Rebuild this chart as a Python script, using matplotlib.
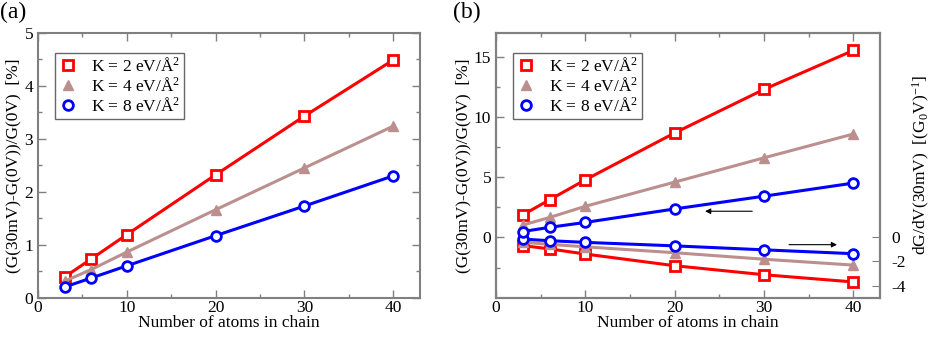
import numpy as np
import matplotlib
matplotlib.use("Agg")
import matplotlib.pyplot as plt
from matplotlib.ticker import MultipleLocator

plt.rcParams["font.family"] = ["Liberation Serif", "DejaVu Serif"]
plt.rcParams["mathtext.fontset"] = "custom"
plt.rcParams["mathtext.rm"] = "Liberation Serif"
plt.rcParams["mathtext.it"] = "Liberation Serif:italic"
plt.rcParams["axes.unicode_minus"] = False

# ---------------------------------------------------------------------------
# Data
# ---------------------------------------------------------------------------
n_atoms = [3, 6, 10, 20, 30, 40]

# panel (a): relative conductance change [%]
a_k2 = [0.39, 0.73, 1.19, 2.32, 3.43, 4.49]
a_k4 = [0.31, 0.53, 0.86, 1.66, 2.45, 3.24]
a_k8 = [0.20, 0.37, 0.60, 1.17, 1.73, 2.30]

# panel (b): relative change [%] (left axis)
b_k2 = [1.88, 3.13, 4.79, 8.69, 12.31, 15.55]
b_k4 = [1.03, 1.66, 2.59, 4.60, 6.62, 8.60]
b_k8 = [0.49, 0.84, 1.25, 2.37, 3.43, 4.52]

# panel (b): dG/dV at 30 mV (right axis)
d_k2 = [-0.68, -0.95, -1.38, -2.35, -3.10, -3.70]
d_k4 = [-0.40, -0.57, -0.78, -1.27, -1.81, -2.30]
d_k8 = [-0.14, -0.27, -0.41, -0.70, -1.03, -1.35]

LABELS = [r"K = 2 eV/Å$^{2}$", r"K = 4 eV/Å$^{2}$", r"K = 8 eV/Å$^{2}$"]
COLORS = ["#ff0000", "#bc8f8f", "#0000ff"]
MARKERS = ["s", "^", "o"]
FS = 12.5
SPINE = "#808080"


def style_axis(ax):
    for sp in ax.spines.values():
        sp.set_color(SPINE)
        sp.set_linewidth(1.5)
    ax.tick_params(which="both", direction="in", top=True, right=True,
                   color=SPINE, labelsize=FS, width=1.0)
    ax.tick_params(which="major", length=6)
    ax.tick_params(which="minor", length=3)
    ax.tick_params(axis="x", pad=2)
    ax.xaxis.set_major_locator(MultipleLocator(10))
    ax.xaxis.set_minor_locator(MultipleLocator(5))
    ax.set_xlim(0, 43)
    ax.set_xlabel("Number of atoms in chain", fontsize=FS, labelpad=-1)


def draw_series(ax, ys, idx, label=None):
    c = COLORS[idx]
    if MARKERS[idx] == "^":
        ax.plot(n_atoms, ys, color=c, lw=2.2, marker="^", ms=7,
                mfc=c, mec=c, label=label, zorder=3)
    else:
        ax.plot(n_atoms, ys, color=c, lw=2.2, marker=MARKERS[idx], ms=7,
                mfc="white", mec=c, mew=2.0, label=label, zorder=3)


def add_legend(ax):
    leg = ax.legend(loc="upper left", bbox_to_anchor=(0.045, 0.925),
                    fontsize=FS, frameon=True, fancybox=False,
                    handlelength=1.0, handletextpad=0.8, borderpad=0.25,
                    labelspacing=0.1, borderaxespad=0)
    leg.get_frame().set_edgecolor("#404040")
    leg.get_frame().set_linewidth(1.0)
    for h in leg.get_lines():
        h.set_linestyle("")


fig = plt.figure(figsize=(9.33, 3.37), dpi=100)
BOTTOM, HEIGHT = 0.117, 0.785

# ---------------------------------------------------------------------------
# Panel (a)
# ---------------------------------------------------------------------------
ax_a = fig.add_axes([0.0407, BOTTOM, 0.4093, HEIGHT])
style_axis(ax_a)
for i, ys in enumerate([a_k2, a_k4, a_k8]):
    draw_series(ax_a, ys, i, LABELS[i])
ax_a.set_ylim(0, 5)
ax_a.yaxis.set_major_locator(MultipleLocator(1))
ax_a.yaxis.set_minor_locator(MultipleLocator(0.5))
ax_a.set_ylabel("(G(30mV)-G(0V))/G(0V)  [%]", fontsize=FS, labelpad=2)
add_legend(ax_a)
fig.text(0.0, 0.995, "(a)", fontsize=17, va="top", ha="left")

# ---------------------------------------------------------------------------
# Panel (b)
# ---------------------------------------------------------------------------
ax_b = fig.add_axes([0.5316, BOTTOM, 0.4116, HEIGHT])
style_axis(ax_b)
ax_b.tick_params(which="both", right=False)
for i, ys in enumerate([b_k2, b_k4, b_k8]):
    draw_series(ax_b, ys, i, LABELS[i])
ax_b.set_ylim(-5, 17)
ax_b.set_yticks([0, 5, 10, 15])
ax_b.set_yticks([-2.5, 2.5, 7.5, 12.5], minor=True)
ax_b.set_ylabel("(G(30mV)-G(0V))/G(0V)  [%]", fontsize=FS, labelpad=2)

ax_r = ax_b.twinx()
for sp in ax_r.spines.values():
    sp.set_color(SPINE)
    sp.set_linewidth(1.5)
for i, ys in enumerate([d_k2, d_k4, d_k8]):
    draw_series(ax_r, ys, i)
ax_r.set_ylim(-5, 17)
ax_r.set_yticks([-4, -2, 0])
ax_r.set_yticklabels(["-4", "-2", "0"])
ax_r.tick_params(axis="y", direction="in", length=6, color=SPINE,
                 labelsize=FS, pad=8)
ax_r.set_ylabel(r"dG/dV(30mV)  [(G$_0$V)$^{-1}$]", fontsize=FS, labelpad=4)

ax_b.annotate("", xy=(23.1, 2.18), xytext=(29.0, 2.18),
              arrowprops=dict(arrowstyle="-|>", color="black", lw=0.8,
                              mutation_scale=8))
ax_r.annotate("", xy=(38.5, -0.6), xytext=(32.5, -0.6),
              arrowprops=dict(arrowstyle="-|>", color="black", lw=0.8,
                              mutation_scale=8))

add_legend(ax_b)
ax_b.set_zorder(ax_r.get_zorder() + 1)
ax_b.patch.set_visible(False)
fig.text(0.485, 0.995, "(b)", fontsize=17, va="top", ha="left")

fig.savefig("out.png", dpi=100)
